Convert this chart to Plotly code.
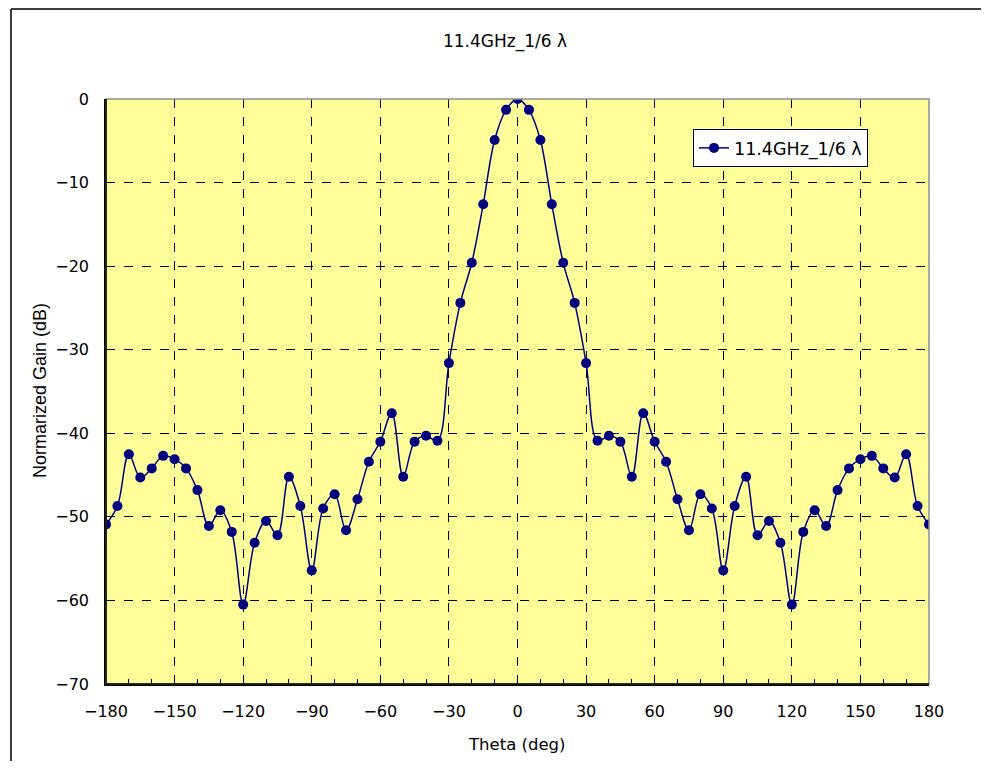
import plotly.graph_objects as go

theta = list(range(-180, 181, 5))
gain = [
    -50.9, -48.7, -42.5, -45.3, -44.2, -42.7, -43.1, -44.2, -46.8, -51.1,
    -49.2, -51.8, -60.5, -53.1, -50.5, -52.2, -45.2, -48.7, -56.4, -49.0,
    -47.3, -51.6, -47.9, -43.4, -41.0, -37.6, -45.2, -41.0, -40.3, -40.9,
    -31.6, -24.4, -19.6, -12.6, -4.9, -1.3, 0.0, -1.3, -4.9, -12.6,
    -19.6, -24.4, -31.6, -40.9, -40.3, -41.0, -45.2, -37.6, -41.0, -43.4,
    -47.9, -51.6, -47.3, -49.0, -56.4, -48.7, -45.2, -52.2, -50.5, -53.1,
    -60.5, -51.8, -49.2, -51.1, -46.8, -44.2, -43.1, -42.7, -44.2, -45.3,
    -42.5, -48.7, -50.9,
]
series_name = "11.4GHz_1/6 λ"
title_text = "11.4GHz_1/6 λ"
x_title = "Theta (deg)"
y_title = "Normarized Gain (dB)"
x_ticks = [-180, -150, -120, -90, -60, -30, 0, 30, 60, 90, 120, 150, 180]
y_ticks = [0, -10, -20, -30, -40, -50, -60, -70]

FONT = "DejaVu Sans"
OFF = 8  # page body margin
W, H = 991 - 2 * OFF, 771 - 2 * OFF
L, R, T, B = 106 - OFF, W - (929 - OFF), 99 - OFF, H - (684 - OFF)
PW, PH = 929 - 106, 684 - 99

fx0 = (11 - 106) / PW
fy1 = (684 - 9) / PH
fx_end = (W + OFF - 2 - 106) / PW
fy_end = (684 - (H + OFF - 2)) / PH

fig = go.Figure()
fig.add_trace(go.Scatter(
    x=theta, y=gain, name=series_name, mode="lines+markers",
    line=dict(color="#000080", width=1.5, shape="spline", smoothing=1.0),
    marker=dict(color="#000080", size=10),
    showlegend=True,
))

fig.update_layout(
    width=W, height=H,
    margin=dict(l=L, r=R, t=T, b=B),
    paper_bgcolor="white", plot_bgcolor="#FFFF99",
    font=dict(family=FONT, size=15, color="black"),
    title=dict(text=title_text, x=(505 - OFF) / W, xref="container", xanchor="center",
               y=1 - (41 - OFF) / H, yref="container", yanchor="middle",
               font=dict(family=FONT, size=17, color="black")),
    showlegend=True,
    legend=dict(x=(693 - 106) / PW, y=(684 - 129) / PH, xanchor="left", yanchor="top",
                bgcolor="white", bordercolor="black", borderwidth=1,
                font=dict(family=FONT, size=17.5, color="black")),
    xaxis=dict(range=[-180, 180], tickvals=x_ticks, ticks="inside", ticklen=5,
               tickcolor="black", showline=True, linecolor="black", linewidth=1.5,
               mirror=False, showgrid=True, gridcolor="black", griddash="dash", gridwidth=1,
               zeroline=False, tickfont=dict(size=16), ticklabelstandoff=12,
               minor=dict(dtick=10, ticks="inside", ticklen=5, tickcolor="black", showgrid=False)),
    yaxis=dict(range=[-70, 0], tickvals=y_ticks, ticks="", showline=True, linecolor="black",
               linewidth=1.5, showgrid=True, gridcolor="black", griddash="dash", gridwidth=1,
               zeroline=False, tickfont=dict(size=16), ticklabelstandoff=12),
    annotations=[
        dict(text=x_title, xref="paper", yref="paper", x=(517 - 106) / PW,
             y=(684 - 744) / PH, xanchor="center", yanchor="middle", showarrow=False,
             font=dict(family=FONT, size=16.5, color="black")),
        dict(text=y_title, xref="paper", yref="paper", x=(40 - 106) / PW,
             y=(684 - 391) / PH, xanchor="center", yanchor="middle", showarrow=False,
             textangle=-90, font=dict(family="Liberation Sans", size=18, color="black")),
    ],
    shapes=[
        dict(type="rect", xref="paper", yref="paper", x0=0, x1=1, y0=0, y1=1,
             line=dict(color="#909090", width=1.5), fillcolor="rgba(0,0,0,0)", layer="above"),
        dict(type="line", xref="paper", yref="paper", x0=0, x1=0, y0=0, y1=1,
             line=dict(color="black", width=1.5), layer="above"),
        dict(type="line", xref="paper", yref="paper", x0=0, x1=1, y0=0, y1=0,
             line=dict(color="black", width=1.5), layer="above"),
        dict(type="line", xref="paper", yref="paper", x0=fx0, x1=fx0,
             y0=fy_end, y1=fy1, line=dict(color="black", width=1.5)),
        dict(type="line", xref="paper", yref="paper", x0=fx0, x1=fx_end,
             y0=fy1, y1=fy1, line=dict(color="black", width=1.5)),
    ],
)

fig.write_html("out.html")
